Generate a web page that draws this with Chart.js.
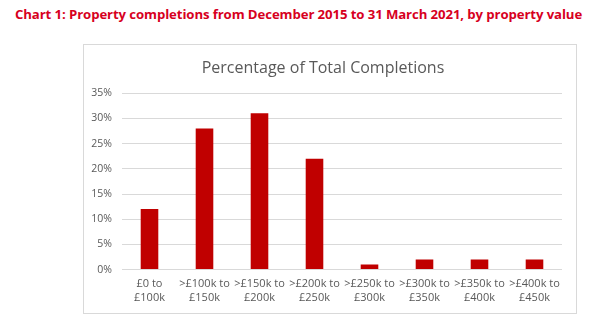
<!DOCTYPE html>
<html lang="en">
<head>
    <meta charset="UTF-8">
    <title>Property completions by property value</title>
    <script src="https://cdn.jsdelivr.net/npm/chart.js"></script>
    <style>
        body { margin: 0; background: #fff; width: 606px; height: 329px; position: relative; overflow: hidden; }
        h1 {
            position: absolute; left: 15px; top: 5px; margin: 0;
            font-family: "Open Sans", sans-serif; font-weight: 700; font-size: 13.2px;
            color: #d7001e; letter-spacing: -0.1px; white-space: nowrap;
        }
        .chart-box {
            position: absolute; left: 83px; top: 44px; width: 492px; height: 268px;
            border: 1px solid #d9d9d9;
        }
    </style>
</head>
<body>
    <h1>Chart 1: Property completions from December 2015 to 31 March 2021, by property value</h1>
    <div class="chart-box">
        <canvas id="completionsChart" width="492" height="268"></canvas>
    </div>

    <script>
        // value bands (two-line labels) and share of total completions (%)
        const bands = [
            ['£0 to', '£100k'],
            ['>£100k to', '£150k'],
            ['>£150k to', '£200k'],
            ['>£200k to', '£250k'],
            ['>£250k to', '£300k'],
            ['>£300k to', '£350k'],
            ['>£350k to', '£400k'],
            ['>£400k to', '£450k']
        ];
        const shares = [12, 28, 31, 22, 1, 2, 2, 2];
        const yTicks = [0, 5, 10, 15, 20, 25, 30, 35];

        const ctx = document.getElementById('completionsChart').getContext('2d');
        new Chart(ctx, {
            type: 'bar',
            data: {
                labels: bands,
                datasets: [{
                    label: 'Percentage of Total Completions',
                    data: shares,
                    backgroundColor: '#c00000',
                    barPercentage: 0.64,
                    categoryPercentage: 0.5
                }]
            },
            options: {
                responsive: false,
                animation: false,
                layout: { padding: { left: 0, right: 14, top: 6, bottom: 9 } },
                plugins: {
                    legend: { display: false },
                    tooltip: { enabled: false },
                    title: {
                        display: true,
                        text: 'Percentage of Total Completions',
                        color: '#595959',
                        font: { family: 'Open Sans', size: 16, weight: 'normal' },
                        padding: { top: 8, bottom: 15 }
                    }
                },
                scales: {
                    x: {
                        grid: { display: false },
                        border: { display: false },
                        ticks: {
                            color: '#595959',
                            font: { family: 'Open Sans', size: 11 },
                            maxRotation: 0,
                            autoSkip: false,
                            padding: 0
                        }
                    },
                    y: {
                        min: 0,
                        max: 35,
                        afterBuildTicks: axis => { axis.ticks = yTicks.map(v => ({ value: v })); },
                        afterFit: axis => { axis.width = 38; },
                        grid: { color: '#d9d9d9', drawTicks: false },
                        border: { display: false },
                        ticks: {
                            color: '#595959',
                            font: { family: 'Open Sans', size: 10.5 },
                            padding: 10,
                            callback: v => v + '%'
                        }
                    }
                }
            }
        });
    </script>
</body>
</html>
